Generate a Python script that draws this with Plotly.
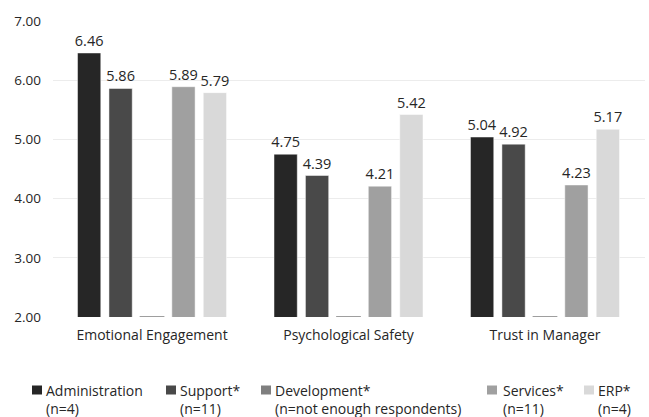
import plotly.graph_objects as go

categories = ["Emotional Engagement", "Psychological Safety", "Trust in Manager"]
series_names = ["Administration", "Support*", "Development*", "Services*", "ERP*"]
series_counts = ["(n=4)", "(n=11)", "(n=not enough respondents)", "(n=11)", "(n=4)"]
administration = [6.46, 4.75, 5.04]
support = [5.86, 4.39, 4.92]
development = [2.00, 2.00, 2.00]
services = [5.89, 4.21, 4.23]
erp = [5.79, 5.42, 5.17]
y_ticks = [2, 3, 4, 5, 6, 7]

colors = ["#262626", "#494949", "#7f7f7f", "#a0a0a0", "#d9d9d9"]
values = [administration, support, development, services, erp]
FONT = "Open Sans"
TXT = "#262626"

fig = go.Figure()
for name, vals, col in zip(series_names, values, colors):
    is_dev = name.startswith("Development")
    fig.add_trace(go.Bar(
        x=categories, y=vals, name=name,
        marker=dict(color=col, line=dict(color=col if is_dev else "rgba(255,255,255,0.6)", width=1.5 if is_dev else 0.8)),
        texttemplate="" if is_dev else "%{y:.2f}",
        textposition="outside",
        constraintext="none",
        textfont=dict(family=FONT, size=14.5, color=TXT),
        cliponaxis=False if not is_dev else True,
        showlegend=False,
        hoverinfo="x+y+name",
    ))

L, R, T, B = 53, 4, 21, 100
W, H = 649, 417
pw = W - L - R
ph = H - T - B

def px(x):
    return (x - L) / pw

def py(y):
    return (H - B - y) / ph

shapes = []
annotations = []
sq_x = [32, 166, 261, 487, 584]
tx_x = [45, 179, 274, 502, 597]
for i, (name, cnt, col) in enumerate(zip(series_names, series_counts, colors)):
    shapes.append(dict(type="rect", xref="paper", yref="paper",
                       x0=px(sq_x[i]), x1=px(sq_x[i] + 10),
                       y0=py(394.5), y1=py(385.5),
                       fillcolor=col, line=dict(width=0)))
    annotations.append(dict(xref="paper", yref="paper", x=px(tx_x[i] - 1), y=py(378.5),
                            xanchor="left", yanchor="top", align="left",
                            showarrow=False, text=f"{name}<br>{cnt}",
                            font=dict(family=FONT, size=14, color=TXT)))

fig.update_layout(
    width=W, height=H,
    margin=dict(l=L, r=R, t=T, b=B),
    paper_bgcolor="white", plot_bgcolor="white",
    barmode="group", bargap=0.2, bargroupgap=0.26,
    font=dict(family=FONT, color=TXT),
    xaxis=dict(range=[-0.504, 2.509], showline=False, ticks="",
               ticklabelstandoff=8,
               tickfont=dict(family=FONT, size=14, color=TXT)),
    yaxis=dict(range=[2, 7], tickvals=y_ticks, tickformat=".2f",
               showgrid=True, gridcolor="#ececec", gridwidth=1,
               zeroline=False, showline=False, ticks="",
               ticklabelstandoff=11,
               tickfont=dict(family=FONT, size=13.5, color=TXT)),
    shapes=shapes, annotations=annotations,
)

fig.write_html("out.html", config={"displayModeBar": False},
               post_script="document.body.style.margin='0';document.body.style.padding='0';")
